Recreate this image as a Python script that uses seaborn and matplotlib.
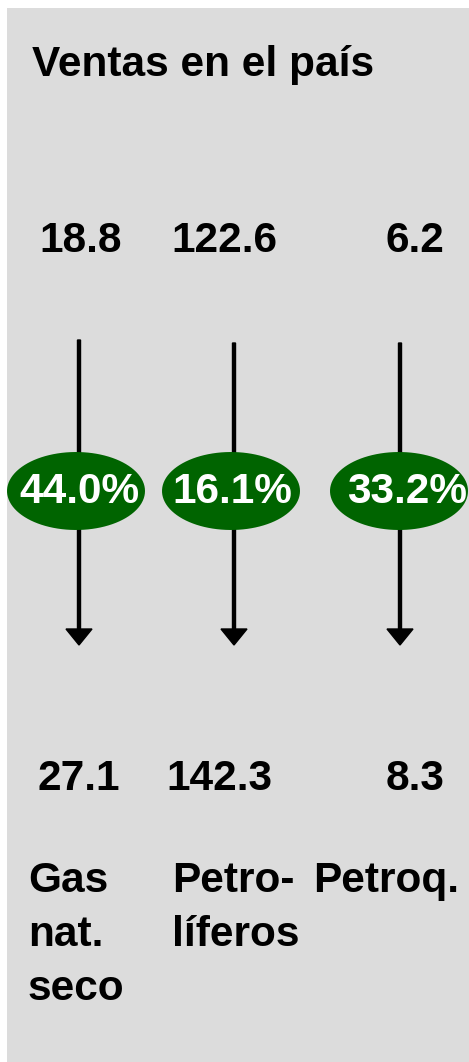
import matplotlib
matplotlib.use("Agg")
import numpy as np
import pandas as pd
import matplotlib.pyplot as plt
import seaborn as sns
from matplotlib.patches import Rectangle
from matplotlib.path import Path

# data
titulo = "Ventas en el país"
categorias = ["Gas\nnat.\nseco", "Petro-\nlíferos", "Petroq."]
ventas_inicio = [18.8, 122.6, 6.2]
ventas_fin = [27.1, 142.3, 8.3]
crecimiento = [44.0, 16.1, 33.2]

# layout in pixel units (y grows downwards)
x_flecha = [79, 234, 400]
x_elipse = [76, 231, 399]
x_num_ini = [81, 224, 415]
x_num_fin = [79, 219, 415]
x_pct = [79, 232, 407]
x_cat = [28, 172, 313]

W, H = 469, 1062
FONDO = "#dcdcdc"
VERDE = "#006400"

sns.set_style("white")
plt.rcParams["font.family"] = ["Liberation Sans", "DejaVu Sans"]
plt.rcParams["font.weight"] = "bold"
plt.rcParams["text.color"] = "black"

df = pd.DataFrame({
    "categoria": categorias,
    "inicio": ventas_inicio,
    "fin": ventas_fin,
    "pct": crecimiento,
    "x_flecha": x_flecha,
    "x_elipse": x_elipse,
})
df["y_elipse"] = 491

fig = plt.figure(figsize=(W / 100, H / 100), dpi=100)
ax = fig.add_axes([0, 0, 1, 1])
ax.set_xlim(0, W)
ax.set_ylim(H, 0)
ax.axis("off")

# gray panel
ax.add_patch(Rectangle((7, 8), W - 7, H - 8, facecolor=FONDO, edgecolor="none", zorder=0))

fs = 30.5

ax.text(32, 76, titulo, fontsize=fs, fontweight="bold", ha="left", va="baseline")

# arrows
for _, r in df.iterrows():
    y0 = 340 if r["x_flecha"] < 100 else 343
    ax.arrow(r["x_flecha"], y0, 0, 645 - y0, width=3, head_width=26, head_length=16,
             length_includes_head=True, color="black", zorder=2)

# ellipses with a custom marker
t = np.linspace(0, 2 * np.pi, 100)
elipse = Path(np.column_stack([np.cos(t), 0.565 * np.sin(t)]), closed=True)
sns.scatterplot(data=df, x="x_elipse", y="y_elipse", marker=elipse, s=(138 * 0.72) ** 2,
                color=VERDE, edgecolor="none", linewidth=0, legend=False, ax=ax, zorder=3)
ax.set_xlabel("")
ax.set_ylabel("")

for i in range(len(df)):
    ax.text(x_num_ini[i], 252, f"{ventas_inicio[i]:.1f}", fontsize=fs, fontweight="bold",
            ha="center", va="baseline")
    ax.text(x_num_fin[i], 790, f"{ventas_fin[i]:.1f}", fontsize=fs, fontweight="bold",
            ha="center", va="baseline")
    ax.text(x_pct[i], 503, f"{crecimiento[i]:.1f}%", fontsize=fs, fontweight="bold",
            color="white", ha="center", va="baseline", zorder=4)
    for j, linea in enumerate(categorias[i].split("\n")):
        ax.text(x_cat[i], 892 + 54 * j, linea, fontsize=fs, fontweight="bold",
                ha="left", va="baseline")

fig.savefig("out.png", dpi=100, facecolor="white")
